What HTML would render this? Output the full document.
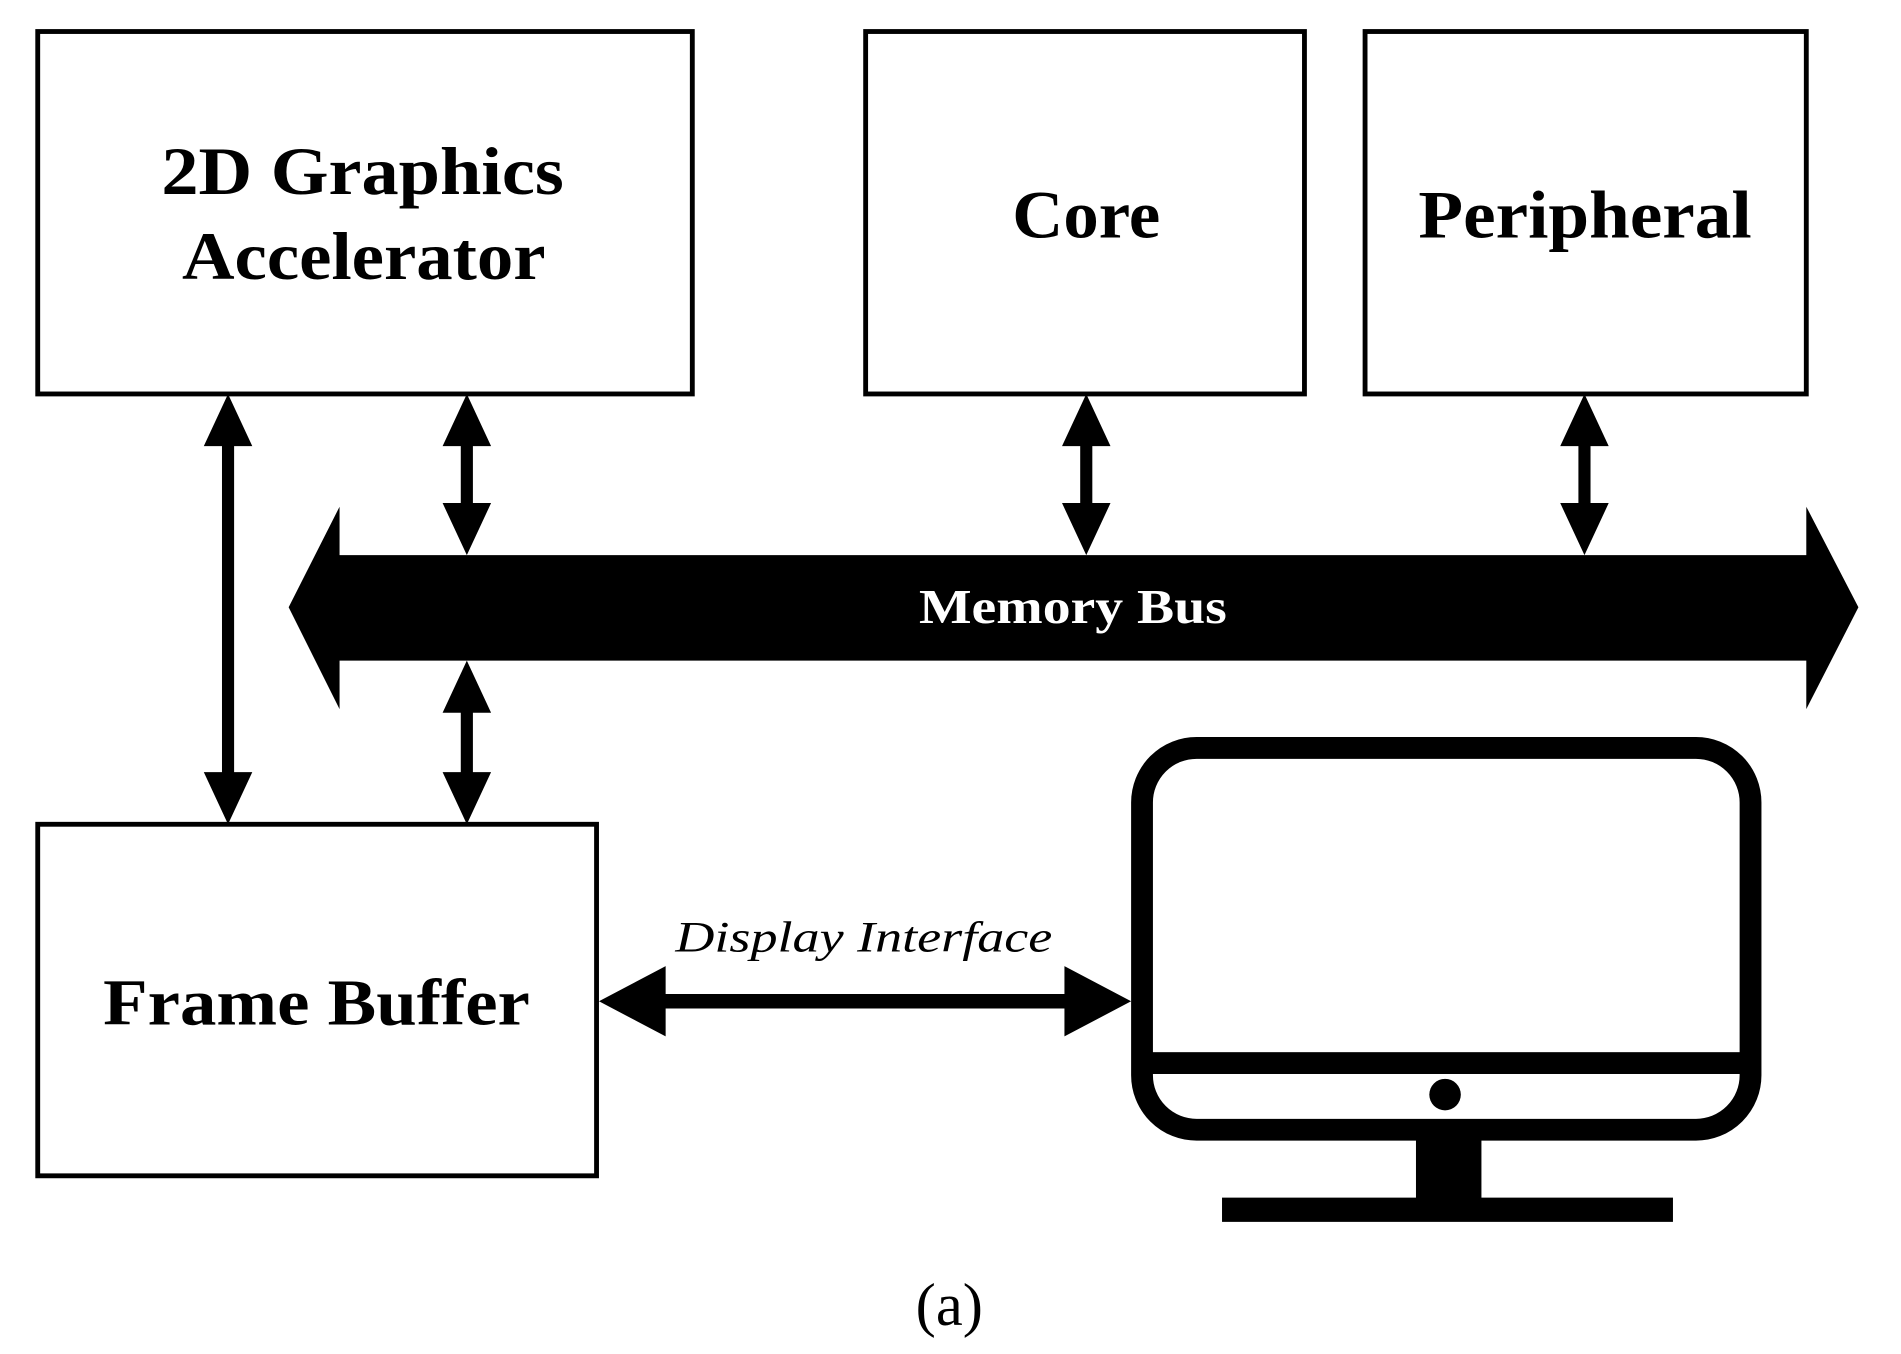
<!DOCTYPE html>
<html><head><meta charset="utf-8"><style>
html,body{margin:0;padding:0;background:#fff;}
svg{display:block;}
text{font-family:"Liberation Serif",serif;}
</style></head><body>
<svg width="1901" height="1354" viewBox="0 0 1568 1117" xmlns="http://www.w3.org/2000/svg">
<rect width="1568" height="1117" fill="#fff"/>
<g fill="none" stroke="#000" stroke-width="4">
<rect x="31" y="26" width="540" height="299"/>
<rect x="714" y="26" width="362" height="299"/>
<rect x="1126" y="26" width="364" height="299"/>
<rect x="31" y="680" width="461" height="290"/>
</g>
<g font-weight="bold" fill="#000" lengthAdjust="spacingAndGlyphs">
<text x="133" y="160" font-size="56" textLength="332" lengthAdjust="spacingAndGlyphs">2D Graphics</text>
<text x="150" y="230" font-size="56" textLength="300" lengthAdjust="spacingAndGlyphs">Accelerator</text>
<text x="835" y="196" font-size="56" textLength="122" lengthAdjust="spacingAndGlyphs">Core</text>
<text x="1170" y="196" font-size="56" textLength="275" lengthAdjust="spacingAndGlyphs">Peripheral</text>
<text x="85" y="845" font-size="54" textLength="352" lengthAdjust="spacingAndGlyphs">Frame Buffer</text>
</g>
<polygon points="238,501 280,418 280,458 1490,458 1490,418 1533,501 1490,585 1490,545 280,545 280,585" fill="#000"/>
<text x="758" y="514" font-size="40" font-weight="bold" fill="#fff" textLength="254" lengthAdjust="spacingAndGlyphs">Memory Bus</text>
<g fill="#000">
<polygon points="188,325 208,368 193,368 193,637 208,637 188,680 168,637 183,637 183,368 168,368"/>
<polygon points="385,325 405,368 390,368 390,415 405,415 385,458 365,415 380,415 380,368 365,368"/>
<polygon points="385,545 405,588 390,588 390,637 405,637 385,680 365,637 380,637 380,588 365,588"/>
<polygon points="896,325 916,368 901,368 901,415 916,415 896,458 876,415 891,415 891,368 876,368"/>
<polygon points="1307,325 1327,368 1312,368 1312,415 1327,415 1307,458 1287,415 1302,415 1302,368 1287,368"/>
<polygon points="494,826 549,797 549,820 878,820 878,797 933,826 878,855 878,832 549,832 549,855"/>
</g>
<text x="557" y="785" font-size="36" font-style="italic" fill="#000" textLength="311" lengthAdjust="spacingAndGlyphs">Display Interface</text>
<rect x="942" y="617" width="502" height="315" rx="45" fill="none" stroke="#000" stroke-width="18"/>
<rect x="942" y="868" width="502" height="18" fill="#000"/>
<circle cx="1192" cy="903" r="13" fill="#000"/>
<rect x="1168" y="935" width="54" height="55" fill="#000"/>
<rect x="1008" y="988" width="372" height="20" fill="#000"/>
<text x="783" y="1093" font-size="50" text-anchor="middle" fill="#000">(a)</text>
</svg>
</body></html>
